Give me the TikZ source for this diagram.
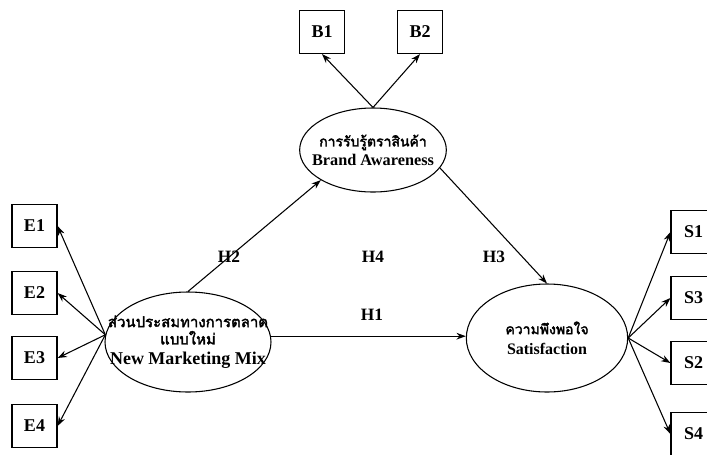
\documentclass[tikz,border=0pt]{standalone}
\usepackage{fontspec}
\setmainfont{Liberation Serif}
\newfontfamily\thaifont[Script=Thai,AutoFakeBold=2.5]{Loma}
\usetikzlibrary{shapes.geometric,arrows.meta}
\tikzset{
  obs/.style={draw,line width=0.9pt,minimum width=33.75pt,minimum height=32.25pt,inner sep=0pt,font=\bfseries\fontsize{13.5}{13.5}\selectfont},
  lat/.style={draw,ellipse,line width=0.8pt,inner xsep=-25pt,inner ysep=-20pt,align=center},
  arr/.style={line width=0.8pt,-{Stealth[length=7pt,width=5pt]}},
  hlab/.style={font=\bfseries\fontsize{13}{13}\selectfont}
}
\newcommand{\thtext}[2]{{\thaifont\bfseries\fontsize{#1}{13}\selectfont #2}}
\begin{document}
\begin{tikzpicture}[x=0.75pt,y=-0.75pt]
\useasboundingbox (0,0) rectangle (707,454);
\clip (0,0) rectangle (707,454);
% observed boxes
\node[obs] (b1) at (322,32) {B1};
\node[obs] (b2) at (420,32) {B2};
\node[obs] (e1) at (34.5,226) {E1};
\node[obs] (e2) at (34.5,293) {E2};
\node[obs] (e3) at (34.5,358) {E3};
\node[obs] (e4) at (34.5,426) {E4};
\node[obs] (s1) at (693.5,232) {S1};
\node[obs] (s3) at (693.5,298) {S3};
\node[obs] (s2) at (693.5,363) {S2};
\node[obs] (s4) at (693.5,434) {S4};
% latent ellipses
\node[lat,minimum width=110pt,minimum height=63pt,font=\bfseries\fontsize{12.2}{13}\selectfont] (ba) at (373,150)
  {\thtext{10.5}{การรับรู้ตราสินค้า}\\[1pt]Brand Awareness};
\node[lat,minimum width=124.5pt,minimum height=75pt,font=\bfseries\fontsize{13.5}{14}\selectfont] (nmm) at (188,342)
  {\thtext{11.2}{ส่วนประสมทางการตลาด}\\[-1pt]\thtext{11.2}{แบบใหม่}\\[1pt]New Marketing Mix};
\node[lat,minimum width=121pt,minimum height=81pt,font=\bfseries\fontsize{12}{13}\selectfont] (sat) at (547,338)
  {\thtext{10.5}{ความพึงพอใจ}\\[2pt]Satisfaction};
% indicator arrows
\draw[arr] (ba.north) -- (b1.south);
\draw[arr] (ba.north) -- (b2.south);
\coordinate (nl) at (nmm.175);
\draw[arr] (nl) -- (e1.east);
\draw[arr] (nl) -- (e2.east);
\draw[arr] (nl) -- (e3.east);
\draw[arr] (nl) -- (e4.east);
\coordinate (sr) at (sat.east);
\draw[arr] (sr) -- (s1.west);
\draw[arr] (sr) -- (s3.west);
\draw[arr] (sr) -- (s2.west);
\draw[arr] (sr) -- (s4.west);
% structural paths
\draw[arr] (nmm.north) -- (ba.210);
\coordinate (h1s) at (nmm.4);
\draw[arr] (h1s) -- (sat.west |- h1s);
\draw[arr] (ba.-15) -- (sat.north);
% labels
\node[hlab] (h2) at (229,257) {H2};
\node[hlab] (h4) at (373,257) {H4};
\node[hlab] (h3) at (494,257) {H3};
\node[hlab] (h1) at (372,315) {H1};
\end{tikzpicture}
\end{document}
